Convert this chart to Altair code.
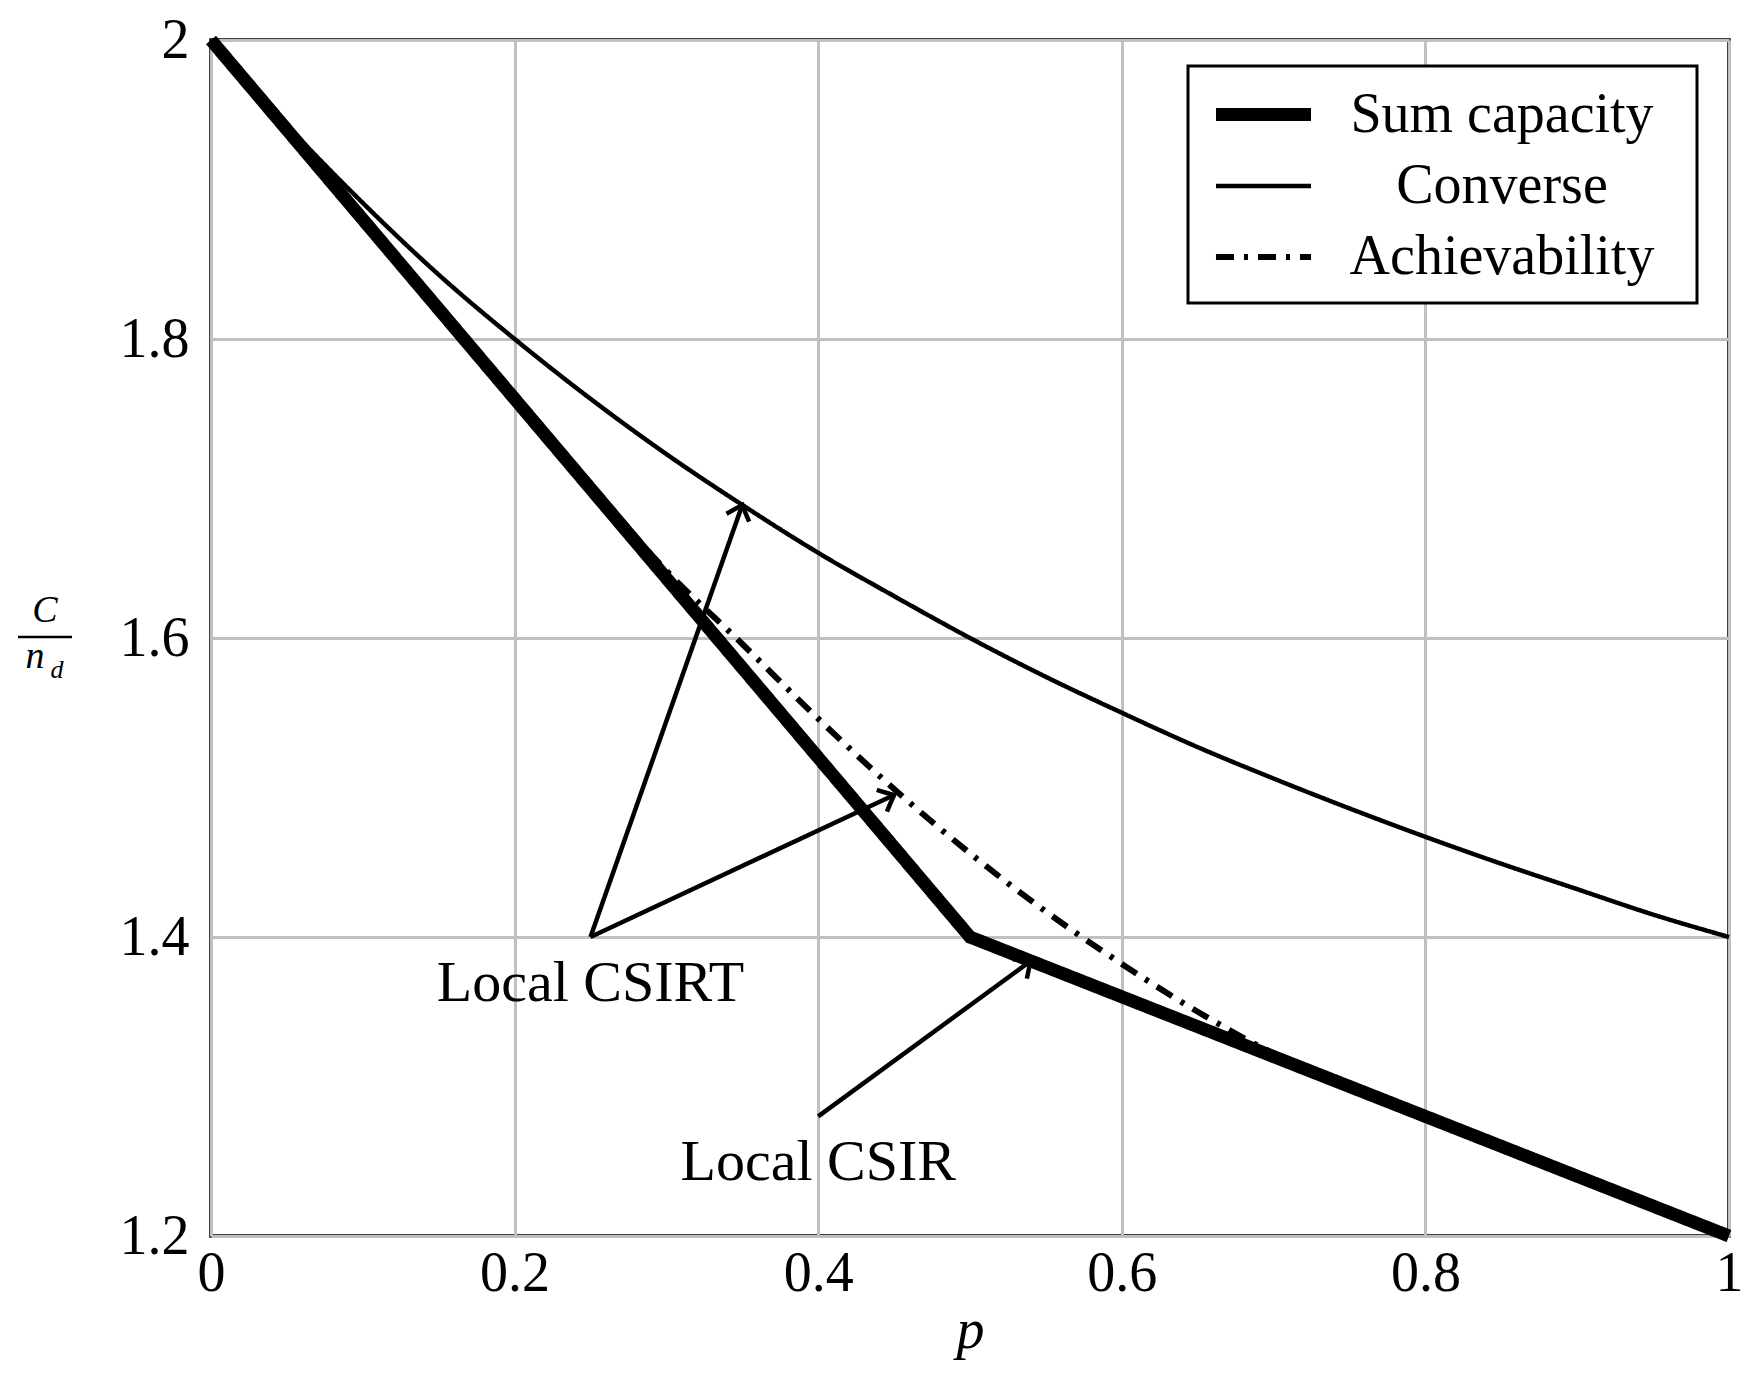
import math
import altair as alt
import pandas as pd

# ---------------- data ----------------
series_names = ["Sum capacity", "Converse", "Achievability"]

sum_p = [0.0, 0.5, 1.0]
sum_c = [2.0, 1.4, 1.2]

conv_p = [0.0, 0.05, 0.1, 0.15, 0.2, 0.25, 0.3, 0.35, 0.4, 0.45, 0.5,
          0.55, 0.6, 0.65, 0.7, 0.75, 0.8, 0.85, 0.9, 0.95, 1.0]
conv_c = [2.0, 1.943, 1.891, 1.843, 1.800, 1.760, 1.723, 1.689, 1.657, 1.628, 1.600,
          1.574, 1.550, 1.527, 1.506, 1.486, 1.467, 1.449, 1.432, 1.415, 1.400]

ach_p = [0.0, 0.05, 0.1, 0.15, 0.2, 0.25, 0.3, 0.35, 0.4, 0.45, 0.5,
         0.55, 0.6, 0.65, 0.7, 0.75, 0.8, 0.85, 0.9, 0.95, 1.0]
ach_c = [2.0, 1.94, 1.88, 1.82, 1.76, 1.702, 1.645, 1.596, 1.546, 1.499, 1.456,
         1.417, 1.382, 1.350, 1.322, 1.30, 1.28, 1.26, 1.24, 1.22, 1.20]

x_ticks = [0, 0.2, 0.4, 0.6, 0.8, 1]
y_ticks = [1.2, 1.4, 1.6, 1.8, 2]

arrow_from_p = [0.25, 0.25, 0.40]
arrow_from_c = [1.40, 1.40, 1.28]
arrow_to_p = [0.35, 0.45, 0.54]
arrow_to_c = [1.689, 1.495, 1.384]

label_text = ["Local CSIRT", "Local CSIR"]
label_p = [0.25, 0.40]
label_c = [1.40, 1.28]

# ---------------- layout / style ----------------
W, H = 1518, 1196
PAD_L, PAD_T, PAD_R, PAD_B = 203, 32, 20, 145
OX, OY = PAD_L + 8, PAD_T + 8          # plot origin on the page
X_DOM = [0, 1]
Y_DOM = [1.2, 2]
FONT = "Liberation Serif"
FS = 56

rows = []
for name, ps, cs in zip(series_names, [sum_p, conv_p, ach_p], [sum_c, conv_c, ach_c]):
    for p, c in zip(ps, cs):
        rows.append({"p": p, "c": c, "series": name})
lines_df = pd.DataFrame(rows)

angles = []
for sp, sc, ep, ec in zip(arrow_from_p, arrow_from_c, arrow_to_p, arrow_to_c):
    dx = (ep - sp) / (X_DOM[1] - X_DOM[0]) * W
    dup = (ec - sc) / (Y_DOM[1] - Y_DOM[0]) * H
    angles.append(math.degrees(math.atan2(dx, dup)) % 360)

arrows_df = pd.DataFrame({"p": arrow_from_p, "c": arrow_from_c,
                          "p2": arrow_to_p, "c2": arrow_to_c, "ang": angles})
labels_df = pd.DataFrame({"p": label_p, "c": label_c, "text": label_text})

x_axis = alt.Axis(values=x_ticks, format="~g", title="p", grid=True,
                  domain=False, ticks=False, labelPadding=10, labelFlush=False,
                  titleFontStyle="italic", titlePadding=2)
y_axis = alt.Axis(values=y_ticks, format="~g", title=None, grid=True,
                  domain=False, ticks=False, labelPadding=22, labelFlush=False)


def X(field):
    return alt.X(field, type="quantitative",
                 scale=alt.Scale(domain=X_DOM, nice=False, zero=False), axis=x_axis)


def Y(field):
    return alt.Y(field, type="quantitative",
                 scale=alt.Scale(domain=Y_DOM, nice=False, zero=False), axis=y_axis)


leg = alt.Legend(orient="none", legendX=1209 - OX, legendY=20, title=None,
                 symbolType="M -1.98 0 L 1.98 0", symbolSize=48 * 48,
                 symbolStrokeColor="black", symbolFillColor="transparent",
                 labelFont=FONT, labelFontSize=FS, labelColor="black",
                 labelAlign="center", labelOffset=208, labelLimit=0,
                 fillColor="transparent", strokeColor="transparent",
                 padding=24, rowPadding=15)

w_scale = alt.Scale(type="ordinal", domain=series_names, range=[13, 4.5, 6])
d_scale = alt.Scale(domain=series_names, range=[[1, 0], [1, 0], [18, 10, 4, 10]])


def line_layer(names, interp):
    return alt.Chart(lines_df).transform_filter(
        alt.FieldOneOfPredicate(field="series", oneOf=names)
    ).mark_line(color="black", clip=False, interpolate=interp).encode(
        x=X("p"), y=Y("c"),
        strokeWidth=alt.StrokeWidth("series:N", scale=w_scale, legend=leg),
        strokeDash=alt.StrokeDash("series:N", scale=d_scale, legend=leg),
    )


sum_line = line_layer(["Sum capacity"], "linear")
curve_lines = line_layer(["Converse", "Achievability"], "monotone")

arrow_lines = alt.Chart(arrows_df).mark_rule(color="black", strokeWidth=4.5).encode(
    x=X("p"), y=Y("c"), x2="p2:Q", y2="c2:Q")

head_path = "M -0.8 0.9 Q -0.25 0.3 0 0 Q 0.25 0.3 0.8 0.9"
arrow_heads = alt.Chart(arrows_df).mark_point(
    shape=head_path, filled=False, color="black", strokeWidth=4.5, size=900, opacity=1
).encode(x=X("p2"), y=Y("c2"), angle=alt.Angle("ang:Q", scale=None))

labels = alt.Chart(labels_df).mark_text(
    font=FONT, fontSize=58, color="black", align="center", baseline="top", dy=18
).encode(x=X("p"), y=Y("c"), text="text:N")

one = pd.DataFrame({"k": [0]})
# legend frame (white box drawn over the plot lines, under the legend entries)
legend_box = alt.Chart(one).mark_rect(fill="white", stroke="black", strokeWidth=3).encode(
    x=alt.value(1188 - OX), x2=alt.value(1697 - OX),
    y=alt.value(66 - OY), y2=alt.value(303 - OY))

frac_c = alt.Chart(one).mark_text(font=FONT, fontSize=38, fontStyle="italic",
                                  color="black", align="center", baseline="alphabetic").encode(
    x=alt.value(45 - OX), y=alt.value(622 - OY), text=alt.value("C"))
frac_bar = alt.Chart(one).mark_rule(color="black", strokeWidth=2.7).encode(
    x=alt.value(18 - OX), x2=alt.value(72 - OX), y=alt.value(637 - OY))
frac_n = alt.Chart(one).mark_text(font=FONT, fontSize=38, fontStyle="italic",
                                  color="black", align="center", baseline="alphabetic").encode(
    x=alt.value(35 - OX), y=alt.value(668 - OY), text=alt.value("n"))
frac_d = alt.Chart(one).mark_text(font=FONT, fontSize=26, fontStyle="italic",
                                  color="black", align="center", baseline="alphabetic").encode(
    x=alt.value(57 - OX), y=alt.value(678 - OY), text=alt.value("d"))

chart = alt.layer(
    sum_line, curve_lines, arrow_lines, arrow_heads, labels, legend_box,
    frac_c, frac_bar, frac_n, frac_d
).properties(
    width=W, height=H,
    autosize=alt.AutoSizeParams(type="none"),
    padding={"left": PAD_L, "top": PAD_T, "right": PAD_R, "bottom": PAD_B},
).configure(
    font=FONT, background="white"
).configure_view(
    stroke="black", strokeWidth=3.5
).configure_axis(
    gridColor="#c0c0c0", gridWidth=3, gridOpacity=1,
    labelFont=FONT, labelFontSize=FS, labelColor="black",
    titleFont=FONT, titleFontSize=FS, titleColor="black", titleFontWeight="normal",
)

chart.save("out.html", embed_options={"renderer": "svg", "actions": False})
